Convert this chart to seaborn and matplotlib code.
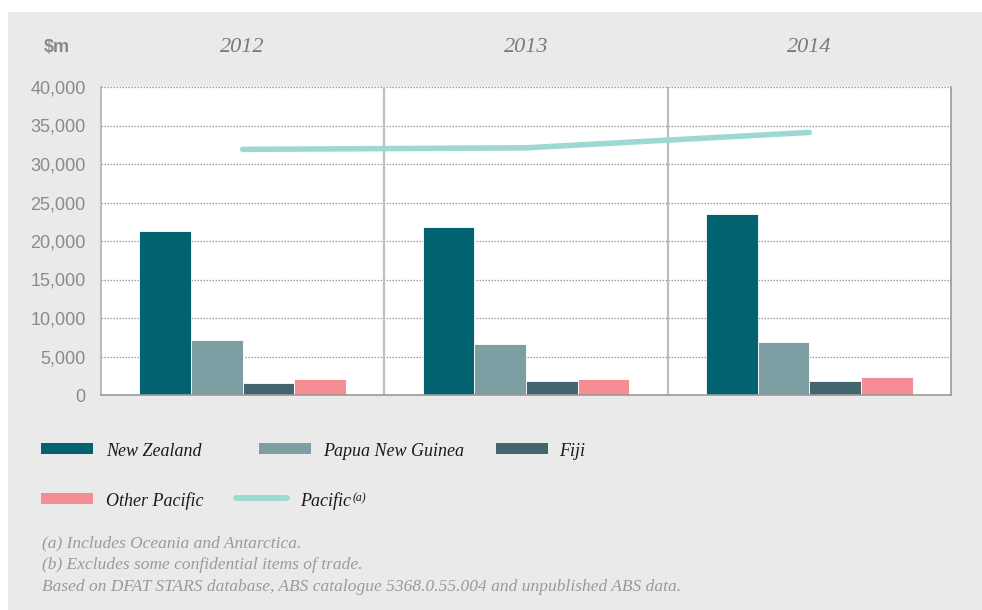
import matplotlib
matplotlib.use("Agg")
import matplotlib.pyplot as plt
from matplotlib.patches import Rectangle
from matplotlib.lines import Line2D
import seaborn as sns
import pandas as pd
import numpy as np

years = ["2012", "2013", "2014"]
series = ["New Zealand", "Papua New Guinea", "Fiji", "Other Pacific"]
new_zealand = [21300, 21800, 23500]
papua_new_guinea = [7200, 6600, 6900]
fiji = [1500, 1800, 1800]
other_pacific = [2050, 2100, 2400]
pacific_total = [31900, 32100, 34100]
yticks = [0, 5000, 10000, 15000, 20000, 25000, 30000, 35000, 40000]
ytick_labels = ["0", "5,000", "10,000", "15,000", "20,000", "25,000", "30,000", "35,000", "40,000"]
colors = ["#00636F", "#7D9FA4", "#43666E", "#F48D94"]
line_color = "#9DD9D2"
footnotes = ["(a) Includes Oceania and Antarctica.",
             "(b) Excludes some confidential items of trade.",
             "Based on DFAT STARS database, ABS catalogue 5368.0.55.004 and unpublished ABS data."]

sns.set_theme(style="white")
plt.rcParams['font.family'] = ['Liberation Sans', 'DejaVu Sans']

df = pd.DataFrame({
    "Year": years * 4,
    "Series": sum([[s] * 3 for s in series], []),
    "Value": new_zealand + papua_new_guinea + fiji + other_pacific,
})

W, H = 982, 610
fig = plt.figure(figsize=(W / 100, H / 100), dpi=100)
fig.patch.set_facecolor("white")
fig.add_artist(Rectangle((8 / W, 0), 1, 1 - 12 / H, transform=fig.transFigure,
                         facecolor="#EAEAEA", edgecolor="none", zorder=-10))

ax = fig.add_axes([101 / W, 1 - 395 / H, 850 / W, 308 / H])
ax.set_facecolor("white")
sns.barplot(data=df, x="Year", y="Value", hue="Series", order=years, hue_order=series,
            palette=colors, width=0.73, ax=ax, legend=False, saturation=1,
            edgecolor="white", linewidth=0.6)
sns.lineplot(x=np.arange(len(years)), y=pacific_total, color=line_color, linewidth=4.0,
             ax=ax, solid_capstyle="round", zorder=5)

ax.set_xlim(-0.5, 2.5)
ax.set_ylim(0, 40000)
ax.set_yticks(yticks)
ax.set_yticklabels(ytick_labels, color="#8A8A8A", fontsize=13)
ax.tick_params(axis="y", length=0, pad=11)
ax.set_xticks([])
ax.set_xlabel("")
ax.set_ylabel("")
for y in yticks[1:]:
    ax.axhline(y, color="#9A9A9A", linestyle=(0, (1.2, 1.2)), linewidth=0.9, zorder=0)
for x in [0.5, 1.5]:
    ax.axvline(x, color="#BDBDBD", linewidth=1.6, zorder=0)
ax.spines["top"].set_visible(False)
for s in ["left", "bottom", "right"]:
    ax.spines[s].set_color("#9A9A9A")
    ax.spines[s].set_linewidth(1.2)
ax.spines["left"].set_color("#B0B0B0")

serif = ['Liberation Serif', 'DejaVu Serif']
for i, yr in enumerate(years):
    fig.text((101 + 283.3 * (i + 0.5)) / W, 1 - 47 / H, yr, ha="center", va="center",
             fontsize=16, style="italic", family=serif, color="#7A7A7A")
fig.text(57 / W, 1 - 48 / H, "$m", ha="center", va="center", fontsize=13,
         family=['Liberation Sans Narrow', 'Liberation Sans', 'DejaVu Sans'],
         weight="bold", color="#8A8A8A")

# legend
def patch(x, y, c):
    fig.add_artist(Rectangle((x / W, 1 - (y + 5.5) / H), 52 / W, 11 / H,
                             transform=fig.transFigure, facecolor=c, edgecolor="none"))

def label(x, y, t, size=13):
    return fig.text(x / W, 1 - y / H, t, ha="left", va="center", fontsize=size,
                    style="italic", family=serif, color="#1A1A1A")

patch(41, 448.5, colors[0]); label(106, 451, series[0])
patch(259, 448.5, colors[1]); label(323, 451, series[1])
patch(496, 448.5, colors[2]); label(559, 451, series[2])
patch(41, 498.5, colors[3]); label(106, 501, series[3])
fig.add_artist(Line2D([236 / W, 287 / W], [1 - 498 / H, 1 - 498 / H], transform=fig.transFigure,
                      color=line_color, linewidth=4.2, solid_capstyle="round"))
pac = label(300, 501, "Pacific")
ax.annotate("(a)", xy=(1, 1), xycoords=pac, xytext=(0.8, 0), textcoords="offset points",
            ha="left", va="top", fontsize=8.5, style="italic", family=serif, color="#1A1A1A",
            annotation_clip=False)

for i, t in enumerate(footnotes):
    fig.text(42 / W, 1 - (543 + 22 * i) / H, t, ha="left", va="center", fontsize=12.5,
             style="italic", family=serif, color="#9A9A9A")

fig.savefig("out.png", dpi=100, facecolor=fig.get_facecolor())
